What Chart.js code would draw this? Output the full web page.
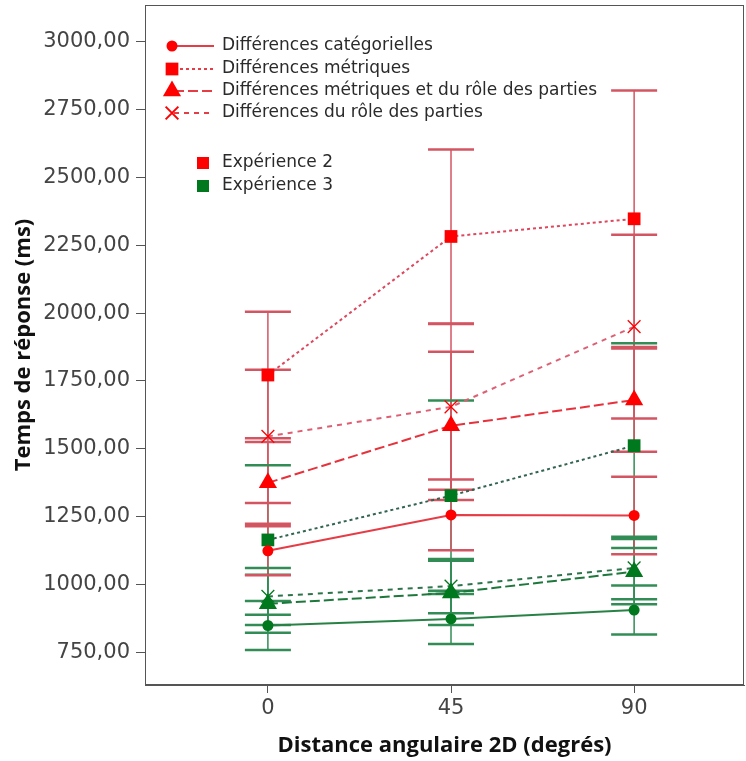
<!DOCTYPE html>
<html>
<head>
<meta charset="utf-8">
<script src="https://cdn.jsdelivr.net/npm/chart.js@4.4.0/dist/chart.umd.min.js"></script>
<style>
  html, body { margin: 0; padding: 0; background: #fff; overflow: hidden; }
  canvas { display: block; }
</style>
</head>
<body>
<canvas id="myChart" width="746" height="761"></canvas>
<script>
const angles = [0, 45, 90];
const yTicks = [750, 1000, 1250, 1500, 1750, 2000, 2250, 2500, 2750, 3000];

// experiment 2 (red) : means and half-width of error bars
const exp2Categ = [1125, 1257, 1255];
const exp2CategErr = [90, 130, 143];
const exp2Metric = [1772, 2282, 2347];
const exp2MetricErr = [233, 320, 472];
const exp2MetRole = [1375, 1585, 1680];
const exp2MetRoleErr = [150, 273, 190];
const exp2Role = [1546, 1655, 1950];
const exp2RoleErr = [245, 305, 338];

// experiment 3 (green)
const exp3Categ = [850, 874, 907];
const exp3CategErr = [90, 92, 90];
const exp3Metric = [1165, 1328, 1512];
const exp3MetricErr = [275, 350, 377];
const exp3MetRole = [930, 970, 1048];
const exp3MetRoleErr = [107, 118, 120];
const exp3Role = [957, 995, 1062];
const exp3RoleErr = [105, 100, 115];

const conditionLabels = [
  "Différences catégorielles",
  "Différences métriques",
  "Différences métriques et du rôle des parties",
  "Différences du rôle des parties",
];
const expLabels = ["Expérience 2", "Expérience 3"];

const RED = "rgb(255,0,0)";
const GREEN = "rgb(0,120,30)";
const RED_BAR = "rgb(212,85,98)";
const GREEN_BAR = "rgb(50,140,85)";

const styles = [
  { pointStyle: "circle", radius: 5.5, dash: [] },
  { pointStyle: "rect", radius: 9, dash: [3, 3] },
  { pointStyle: "triangle", radius: 10.5, dash: [10, 4] },
  { pointStyle: "crossRot", radius: 9, dash: [5, 5] },
];

function makeSet(label, values, errors, idx, exp) {
  const st = styles[idx];
  const lineColors = exp === 2
    ? ["rgb(230,60,70)", "rgb(222,72,95)", "rgb(230,50,60)", "rgb(222,95,115)"]
    : ["rgb(40,130,70)", "rgb(50,100,80)", "rgb(30,120,60)", "rgb(45,115,75)"];
  const marker = exp === 2 ? RED : GREEN;
  return {
    label: label,
    data: angles.map((a, i) => ({ x: a, y: values[i] })),
    errors: errors,
    exp: exp,
    borderColor: lineColors[idx],
    borderWidth: 2,
    borderDash: st.dash,
    pointStyle: st.pointStyle,
    pointRadius: st.radius,
    pointBackgroundColor: marker,
    pointBorderColor: marker,
    pointBorderWidth: st.pointStyle === "crossRot" ? 1.3 : 0,
    fill: false,
    tension: 0,
  };
}

const datasets = [
  makeSet(conditionLabels[0] + " 2", exp2Categ, exp2CategErr, 0, 2),
  makeSet(conditionLabels[1] + " 2", exp2Metric, exp2MetricErr, 1, 2),
  makeSet(conditionLabels[2] + " 2", exp2MetRole, exp2MetRoleErr, 2, 2),
  makeSet(conditionLabels[3] + " 2", exp2Role, exp2RoleErr, 3, 2),
  makeSet(conditionLabels[0] + " 3", exp3Categ, exp3CategErr, 0, 3),
  makeSet(conditionLabels[1] + " 3", exp3Metric, exp3MetricErr, 1, 3),
  makeSet(conditionLabels[2] + " 3", exp3MetRole, exp3MetRoleErr, 2, 3),
  makeSet(conditionLabels[3] + " 3", exp3Role, exp3RoleErr, 3, 3),
];

const errorBars = {
  id: "errorBars",
  beforeDatasetsDraw(chart) {
    const { ctx, scales: { x, y } } = chart;
    const order = chart.data.datasets.slice().reverse();
    ctx.save();
    // vertical lines first, caps after
    order.forEach((ds) => {
      ctx.strokeStyle = ds.exp === 2 ? RED_BAR : GREEN_BAR;
      ctx.lineWidth = 1.5;
      ds.data.forEach((p, j) => {
        const px = x.getPixelForValue(p.x);
        ctx.beginPath();
        ctx.moveTo(px, y.getPixelForValue(p.y + ds.errors[j]));
        ctx.lineTo(px, y.getPixelForValue(p.y - ds.errors[j]));
        ctx.stroke();
      });
    });
    order.forEach((ds) => {
      ctx.strokeStyle = ds.exp === 2 ? RED_BAR : GREEN_BAR;
      ctx.lineWidth = 2.5;
      ds.data.forEach((p, j) => {
        const px = x.getPixelForValue(p.x);
        [p.y + ds.errors[j], p.y - ds.errors[j]].forEach((v) => {
          const py = y.getPixelForValue(v);
          ctx.beginPath();
          ctx.moveTo(px - 23, py);
          ctx.lineTo(px + 23, py);
          ctx.stroke();
        });
      });
    });
    ctx.restore();
  },
};

const frameAndLegend = {
  id: "frameAndLegend",
  afterDraw(chart) {
    const { ctx, chartArea: a } = chart;
    ctx.save();
    ctx.strokeStyle = "#555";
    ctx.lineWidth = 1;
    ctx.strokeRect(a.left + 0.5, a.top + 0.5, a.right - a.left - 1, a.bottom - a.top - 1);

    ctx.font = "17px 'DejaVu Sans'";
    ctx.textBaseline = "middle";
    const rowsY = [46, 69, 91, 113];
    conditionLabels.forEach((label, i) => {
      const st = styles[i];
      const yy = rowsY[i];
      ctx.strokeStyle = "rgb(230,60,70)";
      ctx.lineWidth = 2;
      ctx.setLineDash(st.dash);
      ctx.beginPath();
      ctx.moveTo(174, yy);
      ctx.lineTo(214, yy);
      ctx.stroke();
      ctx.setLineDash([]);
      ctx.fillStyle = RED;
      ctx.strokeStyle = RED;
      Chart.helpers.drawPoint(ctx, {
        pointStyle: st.pointStyle,
        radius: st.radius,
        rotation: 0,
        borderWidth: st.pointStyle === "crossRot" ? 1.3 : 0,
      }, 172, yy);
      ctx.fillStyle = "#2a2a2a";
      ctx.fillText(label, 222, yy);
    });

    [RED, GREEN].forEach((c, i) => {
      const yy = 163 + i * 23;
      ctx.fillStyle = c;
      ctx.fillRect(197, yy - 6, 12, 12);
      ctx.fillStyle = "#2a2a2a";
      ctx.fillText(expLabels[i], 222, yy);
    });
    ctx.restore();
  },
};

const ctx = document.getElementById("myChart").getContext("2d");

const myChart = new Chart(ctx, {
  type: "line",
  data: { datasets: datasets },
  plugins: [errorBars, frameAndLegend],
  options: {
    responsive: false,
    animation: false,
    layout: {
      autoPadding: false,
      padding: { top: 5, right: 2, left: 0, bottom: 0 },
    },
    scales: {
      x: {
        type: "linear",
        min: -30.2,
        max: 117,
        afterBuildTicks: (axis) => {
          axis.ticks = angles.map((v) => ({ value: v }));
        },
        afterFit: (axis) => {
          axis.height = 76;
          axis.paddingLeft = 0;
          axis.paddingRight = 0;
        },
        grid: { drawOnChartArea: false, tickLength: 8, color: "#555" },
        border: { color: "#555" },
        ticks: {
          padding: 3,
          color: "#444",
          font: { family: "'DejaVu Sans'", size: 21 },
          callback: (value) => value.toString(),
        },
        title: {
          display: true,
          text: "Distance angulaire 2D (degrés)",
          color: "#111",
          font: { family: "'Open Sans'", weight: "bold", size: 22 },
          padding: { bottom: 2 },
        },
      },
      y: {
        type: "linear",
        min: 631,
        max: 3134,
        afterBuildTicks: (axis) => {
          axis.ticks = yTicks.map((v) => ({ value: v }));
        },
        afterFit: (axis) => {
          axis.width = 145;
          axis.paddingTop = 0;
          axis.paddingBottom = 0;
        },
        grid: { drawOnChartArea: false, tickLength: 9, color: "#555" },
        border: { color: "#555" },
        ticks: {
          padding: 6,
          color: "#444",
          font: { family: "'DejaVu Sans'", size: 21 },
          callback: (value) => value.toFixed(2).replace(".", ","),
        },
        title: {
          display: true,
          text: "Temps de réponse (ms)",
          color: "#111",
          font: { family: "'Open Sans'", weight: "bold", size: 22 },
          padding: { top: 11 },
        },
      },
    },
    plugins: {
      legend: { display: false },
      tooltip: { enabled: false },
    },
  },
});
</script>
</body>
</html>
